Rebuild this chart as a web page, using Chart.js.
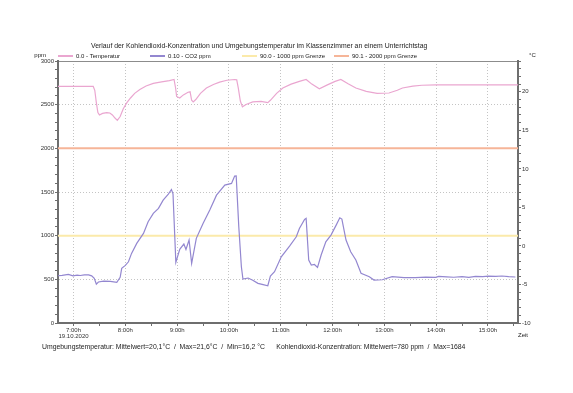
<!DOCTYPE html>
<html>
<head>
<meta charset="utf-8">
<script src="https://cdn.jsdelivr.net/npm/chart.js@4/dist/chart.umd.min.js"></script>
<style>
  html, body { margin: 0; padding: 0; background: #fff; }
</style>
</head>
<body>
<canvas id="chart" width="573" height="393"></canvas>
<script>
const chartTitle = "Verlauf der Kohlendioxid-Konzentration und Umgebungstemperatur im Klassenzimmer an einem Unterrichtstag";
const seriesNames = ["0.0 - Temperatur", "0.10 - CO2 ppm", "90.0 - 1000 ppm Grenze", "90.1 - 2000 ppm Grenze"];
const seriesColors = ["#eaa6d0", "#9387d0", "#fbeaaa", "#f6b598"];
const footerText = "Umgebungstemperatur: Mittelwert=20,1°C  /  Max=21,6°C  /  Min=16,2 °C      Kohlendioxid-Konzentration: Mittelwert=780 ppm  /  Max=1684";
const dateLabel = "19.10.2020";

// time axis in hours (6:42 .. 15:35)
const timeRange = [6.7, 15.58];

const tempTimes = [6.70, 7.38, 7.41, 7.44, 7.47, 7.50, 7.56, 7.64, 7.70, 7.75, 7.80, 7.845, 7.90, 7.96, 8.03, 8.10, 8.18, 8.28, 8.40, 8.54, 8.70, 8.85, 8.94, 8.97, 8.99, 9.05, 9.12, 9.21, 9.25, 9.28, 9.31, 9.36, 9.45, 9.565, 9.70, 9.82, 9.96, 10.11, 10.15, 10.18, 10.22, 10.26, 10.33, 10.46, 10.62, 10.75, 10.80, 10.92, 11.04, 11.20, 11.36, 11.49, 11.60, 11.745, 11.90, 12.05, 12.16, 12.30, 12.45, 12.65, 12.86, 13.09, 13.25, 13.35, 13.55, 13.725, 14.00, 14.24, 14.80, 15.58];
const tempValues = [20.7, 20.7, 20.2, 18.6, 17.3, 17.0, 17.2, 17.3, 17.25, 17.0, 16.6, 16.3, 16.8, 17.8, 18.6, 19.2, 19.8, 20.3, 20.75, 21.1, 21.3, 21.45, 21.6, 20.5, 19.4, 19.2, 19.6, 19.95, 20.0, 18.9, 18.7, 19.0, 19.8, 20.5, 20.95, 21.25, 21.5, 21.6, 21.55, 20.5, 18.8, 18.05, 18.35, 18.7, 18.75, 18.6, 18.9, 19.8, 20.5, 21.0, 21.35, 21.6, 21.0, 20.4, 20.9, 21.35, 21.6, 21.05, 20.5, 20.05, 19.8, 19.85, 20.2, 20.5, 20.75, 20.85, 20.9, 20.9, 20.9, 20.9];

const co2Times = [6.70, 6.78, 6.90, 6.99, 7.07, 7.13, 7.21, 7.29, 7.35, 7.40, 7.44, 7.48, 7.58, 7.71, 7.835, 7.90, 7.93, 8.00, 8.06, 8.12, 8.22, 8.35, 8.44, 8.54, 8.64, 8.73, 8.83, 8.89, 8.92, 8.975, 9.05, 9.13, 9.17, 9.23, 9.28, 9.37, 9.50, 9.63, 9.76, 9.92, 10.05, 10.11, 10.14, 10.19, 10.24, 10.27, 10.37, 10.46, 10.56, 10.66, 10.75, 10.80, 10.88, 11.01, 11.17, 11.30, 11.36, 11.46, 11.49, 11.54, 11.59, 11.65, 11.71, 11.78, 11.87, 11.97, 12.07, 12.14, 12.18, 12.26, 12.35, 12.45, 12.55, 12.71, 12.80, 12.96, 13.15, 13.38, 13.60, 13.80, 13.99, 14.05, 14.20, 14.34, 14.50, 14.63, 14.76, 14.90, 15.01, 15.15, 15.27, 15.40, 15.53];
const co2Values = [541, 545, 557, 540, 548, 544, 552, 550, 540, 511, 446, 470, 480, 476, 465, 523, 626, 660, 701, 797, 912, 1026, 1159, 1255, 1312, 1407, 1476, 1529, 1480, 694, 843, 904, 843, 950, 683, 969, 1140, 1293, 1464, 1579, 1598, 1682, 1684, 1102, 644, 503, 515, 490, 454, 440, 427, 538, 587, 758, 881, 987, 1083, 1186, 1198, 721, 664, 670, 637, 778, 930, 1007, 1121, 1205, 1190, 950, 816, 721, 569, 530, 492, 495, 530, 520, 519, 526, 522, 534, 528, 524, 531, 522, 534, 530, 536, 533, 538, 530, 527];

const limitValues = [1000, 2000];

const fontFamily = '"Liberation Sans", Arial, sans-serif';
const axisColor = "#6e6e6e";
const gridColor = "#c4c4c4";

const isWhole = (v, step) => Math.abs(v / step - Math.round(v / step)) < 1e-6;

const pairs = (xs, ys) => xs.map((x, i) => ({ x: x, y: ys[i] }));

const textPlugin = {
  id: "texts",
  afterDraw(chart) {
    const { ctx, chartArea } = chart;
    ctx.save();
    ctx.fillStyle = "#222";
    ctx.textBaseline = "middle";

    // title
    ctx.font = "6.85px " + fontFamily;
    ctx.textAlign = "left";
    ctx.fillText(chartTitle, 91, 46);

    // legend rows
    ctx.font = "6px " + fontFamily;
    chart.data.datasets.forEach((ds, i) => {
      const x0 = chartArea.left + i * 92;
      ctx.strokeStyle = ds.borderColor;
      ctx.lineWidth = 2;
      ctx.beginPath();
      ctx.moveTo(x0, 56);
      ctx.lineTo(x0 + 15, 56);
      ctx.stroke();
      ctx.fillText(ds.label, x0 + 18, 56);
    });

    // axis units
    ctx.textAlign = "right";
    ctx.fillText("ppm", 46, 55);
    ctx.textAlign = "left";
    ctx.fillText("°C", 529, 55);
    ctx.fillText("Zeit", 518, 335);

    // footer
    ctx.font = "6.85px " + fontFamily;
    ctx.fillText(footerText, 42, 347);
    ctx.restore();
  }
};

new Chart(document.getElementById("chart"), {
  type: "line",
  data: {
    datasets: [
      {
        label: seriesNames[0],
        data: pairs(tempTimes, tempValues),
        yAxisID: "yT",
        borderColor: seriesColors[0],
        borderWidth: 1.2,
        order: 1
      },
      {
        label: seriesNames[1],
        data: pairs(co2Times, co2Values),
        yAxisID: "y",
        borderColor: seriesColors[1],
        borderWidth: 1.2,
        order: 0
      },
      {
        label: seriesNames[2],
        data: pairs(timeRange, [limitValues[0], limitValues[0]]),
        yAxisID: "y",
        borderColor: seriesColors[2],
        borderWidth: 2,
        order: 2
      },
      {
        label: seriesNames[3],
        data: pairs(timeRange, [limitValues[1], limitValues[1]]),
        yAxisID: "y",
        borderColor: seriesColors[3],
        borderWidth: 2,
        order: 2
      }
    ]
  },
  options: {
    responsive: false,
    animation: false,
    devicePixelRatio: 1,
    layout: { padding: { left: 0, top: 61, right: 25, bottom: 48 } },
    elements: { point: { radius: 0 }, line: { tension: 0 } },
    plugins: {
      legend: { display: false },
      tooltip: { enabled: false }
    },
    scales: {
      x: {
        type: "linear",
        position: "bottom",
        min: timeRange[0],
        max: timeRange[1],
        afterFit: (s) => { s.height = 22; },
        border: { color: axisColor, width: 2, dash: [1, 2] },
        grid: {
          color: (c) => (c.tick && isWhole(c.tick.value, 1) ? gridColor : "rgba(0,0,0,0)"),
          tickColor: axisColor,
          tickBorderDash: [],
          tickLength: 3
        },
        ticks: {
          stepSize: 0.5,
          includeBounds: false,
          autoSkip: false,
          maxRotation: 0,
          padding: 1,
          color: "#333",
          font: { family: fontFamily, size: 6, lineHeight: 1 },
          callback: (v, i) => {
            if (!isWhole(v, 1)) return "";
            const label = Math.round(v) + ":00h";
            return i === 0 ? [label, dateLabel] : label;
          }
        }
      },
      xTop: {
        type: "linear",
        position: "top",
        min: timeRange[0],
        max: timeRange[1],
        afterFit: (s) => { s.height = 0; },
        border: { color: "#8c8c8c", width: 1 },
        grid: { drawOnChartArea: false, drawTicks: false },
        ticks: { display: false }
      },
      y: {
        position: "left",
        min: 0,
        max: 3000,
        afterFit: (s) => { s.width = 58; },
        border: { color: axisColor, width: 2, dash: [1, 2] },
        grid: {
          color: (c) => (c.tick && isWhole(c.tick.value, 500) ? gridColor : "rgba(0,0,0,0)"),
          tickColor: axisColor,
          tickBorderDash: [],
          tickLength: 3
        },
        ticks: {
          stepSize: 100,
          autoSkip: false,
          padding: 1,
          color: "#333",
          font: { family: fontFamily, size: 6 },
          callback: (v) => (isWhole(v, 500) ? v : "")
        }
      },
      yT: {
        position: "right",
        min: -10,
        max: 24,
        afterFit: (s) => { s.width = 30; },
        border: { color: axisColor, width: 2 },
        grid: {
          drawOnChartArea: false,
          tickColor: axisColor,
          tickLength: 3
        },
        ticks: {
          stepSize: 1,
          autoSkip: false,
          padding: 1,
          color: "#333",
          font: { family: fontFamily, size: 6 },
          callback: (v) => (isWhole(v, 5) ? v : "")
        }
      }
    }
  },
  plugins: [textPlugin]
});
</script>
</body>
</html>
